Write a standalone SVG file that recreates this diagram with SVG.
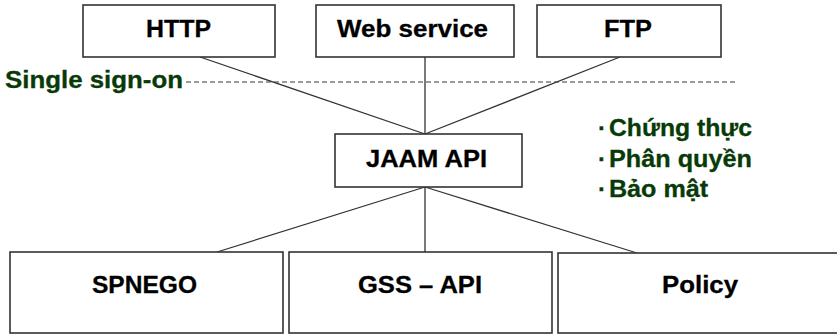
<svg xmlns="http://www.w3.org/2000/svg" width="837" height="335" viewBox="0 0 837 335">
  <style>
    .box { fill: #ffffff; stroke: #333333; stroke-width: 1.6; }
    .lbl { font-family: "Liberation Sans", Arial, sans-serif; font-weight: bold; font-size: 24px; fill: #000000; stroke: #000000; stroke-width: 0.3; }
    .note { font-family: "Liberation Sans", Arial, sans-serif; font-weight: bold; font-size: 24px; fill: #083a08; stroke: #083a08; stroke-width: 0.3; }
    .edge { stroke: #333333; stroke-width: 1.3; fill: none; }
    .sso { stroke: #3a3a3a; stroke-width: 1; stroke-dasharray: 5 3; fill: none; }
  </style>
  <rect width="837" height="335" fill="#ffffff"/>

  <!-- connectors -->
  <g id="connectors">
    <line class="edge" x1="200" y1="57" x2="425" y2="134"/>
    <line class="edge" x1="425" y1="57" x2="425" y2="134"/>
    <line class="edge" x1="620" y1="57" x2="425" y2="134"/>
    <line class="edge" x1="425" y1="187" x2="217" y2="252"/>
    <line class="edge" x1="425" y1="187" x2="425" y2="252"/>
    <line class="edge" x1="425" y1="187" x2="637" y2="253"/>
  </g>

  <!-- single sign-on boundary -->
  <g id="sso">
    <line class="sso" x1="186" y1="82" x2="735" y2="82"/>
    <text class="note" x="5" y="88" textLength="178" lengthAdjust="spacingAndGlyphs">Single sign-on</text>
  </g>

  <!-- protocol layer -->
  <g id="http">
    <rect class="box" x="83" y="5" width="192" height="52"/>
    <text class="lbl" x="146" y="37" textLength="65" lengthAdjust="spacingAndGlyphs">HTTP</text>
  </g>
  <g id="webservice">
    <rect class="box" x="316" y="5" width="198" height="52"/>
    <text class="lbl" x="337" y="37" textLength="151" lengthAdjust="spacingAndGlyphs">Web service</text>
  </g>
  <g id="ftp">
    <rect class="box" x="537" y="5" width="184" height="52"/>
    <text class="lbl" x="604" y="37" textLength="48" lengthAdjust="spacingAndGlyphs">FTP</text>
  </g>

  <!-- API layer -->
  <g id="jaam">
    <rect class="box" x="335" y="134" width="187" height="53"/>
    <text class="lbl" x="366" y="167" textLength="121" lengthAdjust="spacingAndGlyphs">JAAM API</text>
  </g>

  <!-- services -->
  <g id="features">
    <text class="note" x="598" y="136">·</text>
    <text class="note" x="609" y="136" textLength="143" lengthAdjust="spacingAndGlyphs">Chứng thực</text>
    <text class="note" x="598" y="167">·</text>
    <text class="note" x="609" y="167" textLength="143" lengthAdjust="spacingAndGlyphs">Phân quyền</text>
    <text class="note" x="598" y="197">·</text>
    <text class="note" x="609" y="197" textLength="99" lengthAdjust="spacingAndGlyphs">Bảo mật</text>
  </g>

  <!-- mechanism layer -->
  <g id="spnego">
    <rect class="box" x="10" y="252" width="273" height="81"/>
    <text class="lbl" x="92" y="293" textLength="105" lengthAdjust="spacingAndGlyphs">SPNEGO</text>
  </g>
  <g id="gssapi">
    <rect class="box" x="289" y="252" width="263" height="81"/>
    <text class="lbl" x="358" y="293" textLength="124" lengthAdjust="spacingAndGlyphs">GSS – API</text>
  </g>
  <g id="policy">
    <rect class="box" x="558" y="253" width="282" height="80"/>
    <text class="lbl" x="662" y="293" textLength="76" lengthAdjust="spacingAndGlyphs">Policy</text>
  </g>
</svg>
